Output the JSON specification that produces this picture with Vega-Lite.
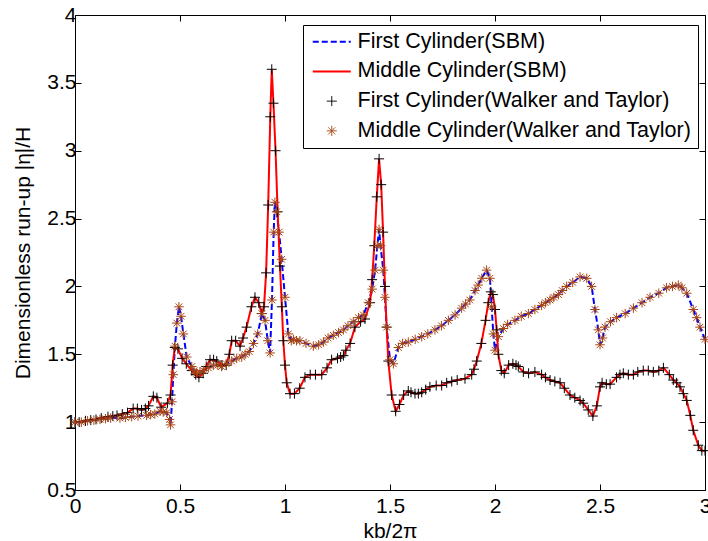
{
  "$schema": "https://vega.github.io/schema/vega-lite/v6.json",
  "width": 630,
  "height": 475,
  "autosize": "none",
  "padding": {"left": 75, "top": 15, "right": 3, "bottom": 51},
  "background": "white",
  "config": {
    "view": {"stroke": null},
    "font": "Liberation Sans",
    "axis": {
      "labelFont": "Liberation Sans", "labelFontSize": 21, "labelColor": "black",
      "titleFont": "Liberation Sans", "titleFontSize": 21, "titleColor": "black", "titleFontWeight": "normal",
      "domainColor": "black", "domainWidth": 1, "tickColor": "black", "tickWidth": 1, "tickSize": -6,
      "grid": false, "format": "~g"
    }
  },
  "datasets": {
    "curves": [
      {"c":"A","x":0,"y":1.0},{"c":"A","x":0.05,"y":1.01},{"c":"A","x":0.1,"y":1.02},{"c":"A","x":0.157,"y":1.04},{"c":"A","x":0.2,"y":1.05},
      {"c":"A","x":0.25,"y":1.07},{"c":"A","x":0.277,"y":1.1},{"c":"A","x":0.317,"y":1.09},{"c":"A","x":0.35,"y":1.12},{"c":"A","x":0.373,"y":1.19},
      {"c":"A","x":0.39,"y":1.18},{"c":"A","x":0.41,"y":1.11},{"c":"A","x":0.44,"y":1.14},{"c":"A","x":0.455,"y":1.2},{"c":"A","x":0.465,"y":1.42},
      {"c":"A","x":0.475,"y":1.55},{"c":"A","x":0.49,"y":1.54},{"c":"A","x":0.51,"y":1.47},{"c":"A","x":0.556,"y":1.38},{"c":"A","x":0.59,"y":1.33},
      {"c":"A","x":0.61,"y":1.36},{"c":"A","x":0.643,"y":1.46},{"c":"A","x":0.675,"y":1.45},{"c":"A","x":0.7,"y":1.42},{"c":"A","x":0.72,"y":1.42},
      {"c":"A","x":0.746,"y":1.6},{"c":"A","x":0.765,"y":1.6},{"c":"A","x":0.786,"y":1.56},{"c":"A","x":0.817,"y":1.7},{"c":"A","x":0.84,"y":1.85},
      {"c":"A","x":0.857,"y":1.92},{"c":"A","x":0.875,"y":1.88},{"c":"A","x":0.889,"y":1.8},{"c":"A","x":0.9,"y":1.85},{"c":"A","x":0.91,"y":2.1},
      {"c":"A","x":0.92,"y":2.6},{"c":"A","x":0.93,"y":3.25},{"c":"A","x":0.937,"y":3.6},{"c":"A","x":0.945,"y":3.35},{"c":"A","x":0.955,"y":3.0},
      {"c":"A","x":0.965,"y":2.55},{"c":"A","x":0.976,"y":2.15},{"c":"A","x":0.985,"y":1.85},{"c":"A","x":0.992,"y":1.6},{"c":"A","x":1.0,"y":1.42},
      {"c":"A","x":1.008,"y":1.29},{"c":"A","x":1.024,"y":1.21},{"c":"A","x":1.045,"y":1.21},{"c":"A","x":1.07,"y":1.25},{"c":"A","x":1.095,"y":1.33},
      {"c":"A","x":1.12,"y":1.35},{"c":"A","x":1.175,"y":1.35},{"c":"A","x":1.2,"y":1.4},{"c":"A","x":1.222,"y":1.46},{"c":"A","x":1.25,"y":1.47},
      {"c":"A","x":1.278,"y":1.49},{"c":"A","x":1.31,"y":1.58},{"c":"A","x":1.333,"y":1.7},{"c":"A","x":1.36,"y":1.74},{"c":"A","x":1.381,"y":1.76},
      {"c":"A","x":1.405,"y":1.88},{"c":"A","x":1.415,"y":2.05},{"c":"A","x":1.425,"y":2.3},{"c":"A","x":1.437,"y":2.66},{"c":"A","x":1.448,"y":2.94},
      {"c":"A","x":1.458,"y":2.75},{"c":"A","x":1.467,"y":2.4},{"c":"A","x":1.476,"y":2.0},{"c":"A","x":1.484,"y":1.7},{"c":"A","x":1.492,"y":1.45},
      {"c":"A","x":1.508,"y":1.2},{"c":"A","x":1.527,"y":1.08},{"c":"A","x":1.545,"y":1.13},{"c":"A","x":1.565,"y":1.2},{"c":"A","x":1.587,"y":1.23},
      {"c":"A","x":1.619,"y":1.21},{"c":"A","x":1.651,"y":1.22},{"c":"A","x":1.69,"y":1.26},{"c":"A","x":1.746,"y":1.27},{"c":"A","x":1.794,"y":1.3},
      {"c":"A","x":1.857,"y":1.32},{"c":"A","x":1.889,"y":1.35},{"c":"A","x":1.913,"y":1.45},{"c":"A","x":1.935,"y":1.58},{"c":"A","x":1.955,"y":1.75},
      {"c":"A","x":1.968,"y":1.88},{"c":"A","x":1.98,"y":1.96},{"c":"A","x":1.99,"y":1.94},{"c":"A","x":2.0,"y":1.83},{"c":"A","x":2.008,"y":1.68},
      {"c":"A","x":2.016,"y":1.5},{"c":"A","x":2.03,"y":1.38},{"c":"A","x":2.044,"y":1.36},{"c":"A","x":2.065,"y":1.42},{"c":"A","x":2.085,"y":1.43},
      {"c":"A","x":2.111,"y":1.41},{"c":"A","x":2.135,"y":1.37},{"c":"A","x":2.19,"y":1.37},{"c":"A","x":2.222,"y":1.35},{"c":"A","x":2.262,"y":1.31},
      {"c":"A","x":2.31,"y":1.29},{"c":"A","x":2.357,"y":1.2},{"c":"A","x":2.405,"y":1.16},{"c":"A","x":2.444,"y":1.09},{"c":"A","x":2.466,"y":1.045},
      {"c":"A","x":2.485,"y":1.12},{"c":"A","x":2.5,"y":1.26},{"c":"A","x":2.51,"y":1.29},{"c":"A","x":2.548,"y":1.28},{"c":"A","x":2.579,"y":1.33},
      {"c":"A","x":2.611,"y":1.36},{"c":"A","x":2.659,"y":1.35},{"c":"A","x":2.706,"y":1.38},{"c":"A","x":2.754,"y":1.37},{"c":"A","x":2.802,"y":1.4},
      {"c":"A","x":2.83,"y":1.35},{"c":"A","x":2.849,"y":1.31},{"c":"A","x":2.881,"y":1.26},{"c":"A","x":2.913,"y":1.16},{"c":"A","x":2.93,"y":1.05},
      {"c":"A","x":2.944,"y":0.94},{"c":"A","x":2.968,"y":0.83},{"c":"A","x":2.985,"y":0.79},{"c":"A","x":3.0,"y":0.79},
      {"c":"A","x":0.02,"y":1.0},{"c":"A","x":0.075,"y":1.015},{"c":"A","x":0.125,"y":1.03},{"c":"A","x":0.18,"y":1.045},{"c":"A","x":0.225,"y":1.06},
      {"c":"A","x":0.297,"y":1.1},{"c":"A","x":0.335,"y":1.1},{"c":"A","x":0.53,"y":1.43},{"c":"A","x":0.575,"y":1.35},{"c":"A","x":0.625,"y":1.41},
      {"c":"A","x":0.66,"y":1.46},{"c":"A","x":0.735,"y":1.5},{"c":"A","x":0.8,"y":1.62},{"c":"A","x":1.145,"y":1.35},{"c":"A","x":1.265,"y":1.48},
      {"c":"A","x":1.29,"y":1.53},{"c":"A","x":1.6,"y":1.22},{"c":"A","x":1.635,"y":1.21},{"c":"A","x":1.67,"y":1.24},{"c":"A","x":1.72,"y":1.27},
      {"c":"A","x":1.77,"y":1.29},{"c":"A","x":1.82,"y":1.31},{"c":"A","x":1.9,"y":1.39},{"c":"A","x":2.1,"y":1.42},{"c":"A","x":2.16,"y":1.36},
      {"c":"A","x":2.24,"y":1.33},{"c":"A","x":2.285,"y":1.3},{"c":"A","x":2.33,"y":1.25},{"c":"A","x":2.38,"y":1.18},{"c":"A","x":2.42,"y":1.14},
      {"c":"A","x":2.53,"y":1.28},{"c":"A","x":2.595,"y":1.35},{"c":"A","x":2.635,"y":1.35},{"c":"A","x":2.68,"y":1.37},{"c":"A","x":2.73,"y":1.38},
      {"c":"A","x":2.78,"y":1.38},{"c":"A","x":2.865,"y":1.29},{"c":"A","x":2.897,"y":1.21},
      {"c":"B","x":0,"y":1.0},{"c":"B","x":0.06,"y":1.01},{"c":"B","x":0.119,"y":1.02},{"c":"B","x":0.17,"y":1.03},{"c":"B","x":0.214,"y":1.03},
      {"c":"B","x":0.27,"y":1.04},{"c":"B","x":0.341,"y":1.05},{"c":"B","x":0.38,"y":1.06},{"c":"B","x":0.405,"y":1.08},{"c":"B","x":0.437,"y":1.07},
      {"c":"B","x":0.45,"y":1.02},{"c":"B","x":0.455,"y":0.98},{"c":"B","x":0.462,"y":1.15},{"c":"B","x":0.468,"y":1.35},{"c":"B","x":0.476,"y":1.56},
      {"c":"B","x":0.485,"y":1.73},{"c":"B","x":0.495,"y":1.85},{"c":"B","x":0.505,"y":1.78},{"c":"B","x":0.516,"y":1.65},{"c":"B","x":0.532,"y":1.48},
      {"c":"B","x":0.556,"y":1.41},{"c":"B","x":0.579,"y":1.36},{"c":"B","x":0.611,"y":1.38},{"c":"B","x":0.659,"y":1.42},{"c":"B","x":0.698,"y":1.41},
      {"c":"B","x":0.746,"y":1.45},{"c":"B","x":0.794,"y":1.48},{"c":"B","x":0.83,"y":1.52},{"c":"B","x":0.85,"y":1.58},{"c":"B","x":0.87,"y":1.65},
      {"c":"B","x":0.89,"y":1.8},{"c":"B","x":0.905,"y":1.75},{"c":"B","x":0.918,"y":1.6},{"c":"B","x":0.929,"y":1.51},{"c":"B","x":0.938,"y":1.9},
      {"c":"B","x":0.946,"y":2.4},{"c":"B","x":0.952,"y":2.62},{"c":"B","x":0.96,"y":2.55},{"c":"B","x":0.972,"y":2.4},{"c":"B","x":0.984,"y":2.2},
      {"c":"B","x":1.0,"y":1.92},{"c":"B","x":1.016,"y":1.65},{"c":"B","x":1.04,"y":1.61},{"c":"B","x":1.071,"y":1.6},{"c":"B","x":1.135,"y":1.56},
      {"c":"B","x":1.183,"y":1.59},{"c":"B","x":1.23,"y":1.64},{"c":"B","x":1.278,"y":1.68},{"c":"B","x":1.325,"y":1.74},{"c":"B","x":1.373,"y":1.79},
      {"c":"B","x":1.397,"y":1.88},{"c":"B","x":1.415,"y":1.98},{"c":"B","x":1.429,"y":2.12},{"c":"B","x":1.44,"y":2.3},{"c":"B","x":1.448,"y":2.42},
      {"c":"B","x":1.455,"y":2.3},{"c":"B","x":1.468,"y":2.12},{"c":"B","x":1.476,"y":1.92},{"c":"B","x":1.484,"y":1.7},{"c":"B","x":1.5,"y":1.46},
      {"c":"B","x":1.516,"y":1.43},{"c":"B","x":1.54,"y":1.55},{"c":"B","x":1.587,"y":1.59},{"c":"B","x":1.651,"y":1.63},{"c":"B","x":1.714,"y":1.68},
      {"c":"B","x":1.778,"y":1.75},{"c":"B","x":1.841,"y":1.84},{"c":"B","x":1.88,"y":1.9},{"c":"B","x":1.905,"y":1.97},{"c":"B","x":1.937,"y":2.06},
      {"c":"B","x":1.96,"y":2.12},{"c":"B","x":1.976,"y":2.06},{"c":"B","x":1.984,"y":1.85},{"c":"B","x":1.992,"y":1.65},{"c":"B","x":2.0,"y":1.53},
      {"c":"B","x":2.016,"y":1.63},{"c":"B","x":2.04,"y":1.69},{"c":"B","x":2.095,"y":1.75},{"c":"B","x":2.159,"y":1.8},{"c":"B","x":2.222,"y":1.86},
      {"c":"B","x":2.262,"y":1.9},{"c":"B","x":2.302,"y":1.94},{"c":"B","x":2.341,"y":2.0},{"c":"B","x":2.405,"y":2.07},{"c":"B","x":2.437,"y":2.06},
      {"c":"B","x":2.46,"y":2.0},{"c":"B","x":2.476,"y":1.83},{"c":"B","x":2.492,"y":1.68},{"c":"B","x":2.5,"y":1.57},{"c":"B","x":2.512,"y":1.62},
      {"c":"B","x":2.524,"y":1.7},{"c":"B","x":2.579,"y":1.77},{"c":"B","x":2.659,"y":1.84},{"c":"B","x":2.738,"y":1.92},{"c":"B","x":2.817,"y":1.99},
      {"c":"B","x":2.873,"y":2.01},{"c":"B","x":2.913,"y":1.95},{"c":"B","x":2.944,"y":1.83},{"c":"B","x":2.976,"y":1.7},{"c":"B","x":3.0,"y":1.61},
      {"c":"B","x":0.03,"y":1.0},{"c":"B","x":0.09,"y":1.015},{"c":"B","x":0.145,"y":1.025},{"c":"B","x":0.24,"y":1.035},{"c":"B","x":0.3,"y":1.045},
      {"c":"B","x":0.36,"y":1.055},{"c":"B","x":0.42,"y":1.075},{"c":"B","x":0.567,"y":1.38},{"c":"B","x":0.595,"y":1.37},{"c":"B","x":0.635,"y":1.4},
      {"c":"B","x":0.68,"y":1.42},{"c":"B","x":0.72,"y":1.43},{"c":"B","x":0.77,"y":1.47},{"c":"B","x":0.81,"y":1.5},{"c":"B","x":1.03,"y":1.6},
      {"c":"B","x":1.055,"y":1.6},{"c":"B","x":1.1,"y":1.58},{"c":"B","x":1.16,"y":1.57},{"c":"B","x":1.205,"y":1.62},{"c":"B","x":1.255,"y":1.66},
      {"c":"B","x":1.3,"y":1.71},{"c":"B","x":1.35,"y":1.77},{"c":"B","x":1.56,"y":1.58},{"c":"B","x":1.62,"y":1.61},{"c":"B","x":1.68,"y":1.65},
      {"c":"B","x":1.745,"y":1.71},{"c":"B","x":1.81,"y":1.79},{"c":"B","x":1.86,"y":1.87},{"c":"B","x":1.92,"y":2.01},{"c":"B","x":2.06,"y":1.72},
      {"c":"B","x":2.125,"y":1.78},{"c":"B","x":2.19,"y":1.83},{"c":"B","x":2.24,"y":1.88},{"c":"B","x":2.28,"y":1.92},{"c":"B","x":2.32,"y":1.97},
      {"c":"B","x":2.37,"y":2.03},{"c":"B","x":2.55,"y":1.74},{"c":"B","x":2.62,"y":1.8},{"c":"B","x":2.7,"y":1.88},{"c":"B","x":2.78,"y":1.95},
      {"c":"B","x":2.845,"y":2.0},{"c":"B","x":2.89,"y":1.99},{"c":"B","x":2.96,"y":1.77}
    ]
  },
  "data": {"name": "curves"},
  "resolve": {"axis": {"x": "independent", "y": "independent"}},
  "layer": [
    {
      "transform": [{"filter": "datum.c == 'B'"}],
      "mark": {"type": "line", "strokeWidth": 2, "strokeDash": [6, 3], "clip": true},
      "encoding": {
        "x": {"field": "x", "type": "quantitative", "scale": {"domain": [0, 3], "nice": false, "zero": false},
              "axis": {"values": [0, 0.5, 1, 1.5, 2, 2.5, 3], "title": "kb/2π", "labelPadding": 11, "titlePadding": 4, "labelFlush": false}},
        "y": {"field": "y", "type": "quantitative", "scale": {"domain": [0.5, 4], "nice": false, "zero": false},
              "axis": {"values": [0.5, 1, 1.5, 2, 2.5, 3, 3.5, 4], "title": "Dimensionless run-up |η|/H", "labelPadding": 5, "titlePadding": 13, "labelFlush": false, "labelAlign": "right"}},
        "color": {
          "datum": "First Cylinder(SBM)",
          "type": "nominal",
          "scale": {
            "domain": ["First Cylinder(SBM)", "Middle Cylinder(SBM)", "First Cylinder(Walker and Taylor)", "Middle Cylinder(Walker and Taylor)"],
            "range": ["#0000ff", "#ff0000", "#000000", "#a84414"]
          },
          "legend": {
            "title": null,
            "orient": "none",
            "legendX": 228,
            "legendY": 10,
            "padding": 6,
            "strokeColor": "black",
            "fillColor": "white",
            "labelFont": "Liberation Sans",
            "labelFontSize": 21.5,
            "labelColor": "black",
            "labelLimit": 0,
            "symbolSize": 100,
            "symbolOffset": 12,
            "labelOffset": 15,
            "rowPadding": 6.7,
            "encode": {
              "symbols": {
                "update": {
                  "shape": {"signal": "datum.index < 2 ? 'stroke' : (datum.index == 2 ? 'M-1,0H1M0,-1V1' : 'M-1,0H1M0,-1V1M-0.7,-0.7L0.7,0.7M-0.7,0.7L0.7,-0.7')"},
                  "size": {"signal": "datum.index < 2 ? 1444 : 100"},
                  "strokeDash": {"signal": "datum.index == 0 ? [6, 3] : [1, 0]"},
                  "strokeWidth": {"signal": "datum.index < 2 ? 2 : 1"},
                  "stroke": {"signal": "['#0000ff', '#ff0000', '#000000', '#a84414'][datum.index]"},
                  "fill": {"value": "transparent"},
                  "opacity": {"value": 1}
                }
              }
            }
          }
        }
      }
    },
    {
      "transform": [{"filter": "datum.c == 'A'"}],
      "mark": {"type": "line", "strokeWidth": 2, "clip": true},
      "encoding": {
        "x": {"field": "x", "type": "quantitative", "axis": null},
        "y": {"field": "y", "type": "quantitative", "axis": null},
        "color": {"datum": "Middle Cylinder(SBM)", "type": "nominal"}
      }
    },
    {
      "transform": [{"filter": "datum.c == 'A'"}],
      "mark": {"type": "point", "shape": "M-1,0H1M0,-1V1", "filled": false, "size": 100, "strokeWidth": 1, "opacity": 1},
      "encoding": {
        "x": {"field": "x", "type": "quantitative", "axis": null},
        "y": {"field": "y", "type": "quantitative", "axis": null},
        "color": {"datum": "First Cylinder(Walker and Taylor)", "type": "nominal"}
      }
    },
    {
      "transform": [{"filter": "datum.c == 'B'"}],
      "mark": {"type": "point", "shape": "M-1,0H1M0,-1V1M-0.7,-0.7L0.7,0.7M-0.7,0.7L0.7,-0.7", "filled": false, "size": 90, "strokeWidth": 1, "opacity": 1},
      "encoding": {
        "x": {"field": "x", "type": "quantitative", "axis": null},
        "y": {"field": "y", "type": "quantitative", "axis": null},
        "color": {"datum": "Middle Cylinder(Walker and Taylor)", "type": "nominal"}
      }
    },
    {
      "transform": [{"filter": "datum.c == 'A'"}],
      "mark": {"type": "point", "opacity": 0},
      "encoding": {
        "x": {"field": "x", "type": "quantitative",
              "axis": {"orient": "top", "values": [0, 0.5, 1, 1.5, 2, 2.5, 3], "labels": false, "title": null}},
        "y": {"field": "y", "type": "quantitative",
              "axis": {"orient": "right", "values": [0.5, 1, 1.5, 2, 2.5, 3, 3.5, 4], "labels": false, "title": null}}
      }
    }
  ]
}
